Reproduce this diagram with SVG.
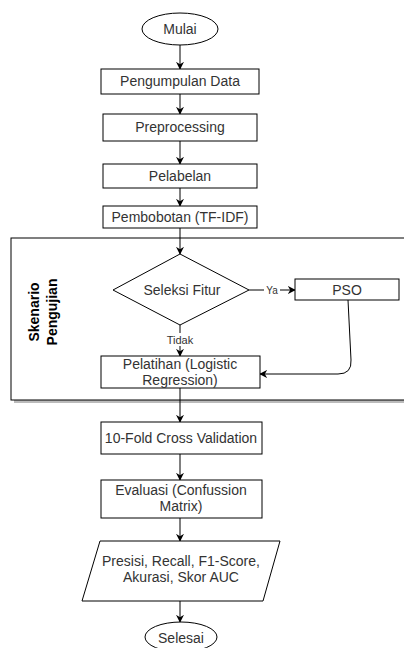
<svg xmlns="http://www.w3.org/2000/svg" width="404" height="648" viewBox="0 0 404 648">
<defs>
<style>
.n{fill:#fff;stroke:#000;stroke-width:1}
.t{font-family:"Liberation Sans",Arial,sans-serif;font-size:14px;fill:#333;text-anchor:middle}
.s{font-family:"Liberation Sans",Arial,sans-serif;font-size:11px;fill:#333;text-anchor:middle}
.b{font-family:"Liberation Sans",Arial,sans-serif;font-size:14px;font-weight:bold;fill:#000;text-anchor:middle}
.c{fill:none;stroke:#000;stroke-width:1}
</style>
<marker id="a" viewBox="0 0 10 10" refX="9" refY="5" markerWidth="8" markerHeight="8" markerUnits="userSpaceOnUse" orient="auto">
<path d="M0,0 L10,5 L0,10 L3,5 Z" fill="#000"/>
</marker>
</defs>
<rect width="404" height="648" fill="#fff"/>
<g id="skenario">
<rect x="14" y="241" width="400" height="162" fill="#bbb"/>
<rect x="11" y="238" width="400" height="162" class="n"/>
<g transform="translate(39,312) rotate(-90)"><text class="b" x="0" y="0">Skenario</text></g>
<g transform="translate(57,312) rotate(-90)"><text class="b" x="0" y="0">Pengujian</text></g>
</g>
<g id="connectors">
<path class="c" d="M180,45 L180,69" marker-end="url(#a)"/>
<path class="c" d="M180,94 L180,114" marker-end="url(#a)"/>
<path class="c" d="M180,141 L180,164" marker-end="url(#a)"/>
<path class="c" d="M180,188 L180,206" marker-end="url(#a)"/>
<path class="c" d="M180,228 L180,254" marker-end="url(#a)"/>
<path class="c" d="M249,290 L295,290" marker-end="url(#a)"/>
<path class="c" d="M180,325 L180,356" marker-end="url(#a)"/>
<path class="c" d="M348,300 L351,360 Q352,374 338,374 L260,374" marker-end="url(#a)"/>
<path class="c" d="M180,388 L180,422" marker-end="url(#a)"/>
<path class="c" d="M180,454 L180,480" marker-end="url(#a)"/>
<path class="c" d="M180,518 L180,541" marker-end="url(#a)"/>
<path class="c" d="M180,601 L180,622" marker-end="url(#a)"/>
<rect x="264" y="284" width="16" height="12" fill="#fff"/>
<text class="s" x="272" y="294" style="font-size:10px">Ya</text>
<rect x="166" y="333" width="28" height="13" fill="#fff"/>
<text class="s" x="180" y="344">Tidak</text>
</g>
<g id="mulai">
<ellipse cx="180" cy="29" rx="38" ry="16" class="n"/>
<text class="t" x="180" y="34">Mulai</text>
</g>
<g id="pengumpulan">
<rect x="101" y="69" width="158" height="25" class="n"/>
<text class="t" x="180" y="86">Pengumpulan Data</text>
</g>
<g id="preprocessing">
<rect x="103" y="114" width="154" height="27" class="n"/>
<text class="t" x="180" y="132">Preprocessing</text>
</g>
<g id="pelabelan">
<rect x="103" y="164" width="154" height="24" class="n"/>
<text class="t" x="180" y="181">Pelabelan</text>
</g>
<g id="pembobotan">
<rect x="103" y="206" width="154" height="22" class="n"/>
<text class="t" x="180" y="222">Pembobotan (TF-IDF)</text>
</g>
<g id="seleksi">
<polygon points="180,254 249,290 180,325 113,290" class="n"/>
<text class="t" x="182" y="295">Seleksi Fitur</text>
</g>
<g id="pso">
<rect x="295" y="279" width="104" height="21" class="n"/>
<text class="t" x="347" y="295">PSO</text>
</g>
<g id="pelatihan">
<rect x="101" y="356" width="159" height="32" class="n"/>
<text class="t" x="180" y="369">Pelatihan (Logistic</text>
<text class="t" x="180" y="385">Regression)</text>
</g>
<g id="kfold">
<rect x="101" y="422" width="161" height="32" class="n"/>
<text class="t" x="181" y="443">10-Fold Cross Validation</text>
</g>
<g id="evaluasi">
<rect x="101" y="480" width="161" height="38" class="n"/>
<text class="t" x="181" y="495">Evaluasi (Confussion</text>
<text class="t" x="181" y="511">Matrix)</text>
</g>
<g id="hasil">
<polygon points="100,541 280,541 263,601 82,601" class="n"/>
<text class="t" x="181" y="566">Presisi, Recall, F1-Score,</text>
<text class="t" x="181" y="582">Akurasi, Skor AUC</text>
</g>
<g id="selesai">
<ellipse cx="181" cy="637" rx="36" ry="15" class="n"/>
<text class="t" x="181" y="643">Selesai</text>
</g>
</svg>
